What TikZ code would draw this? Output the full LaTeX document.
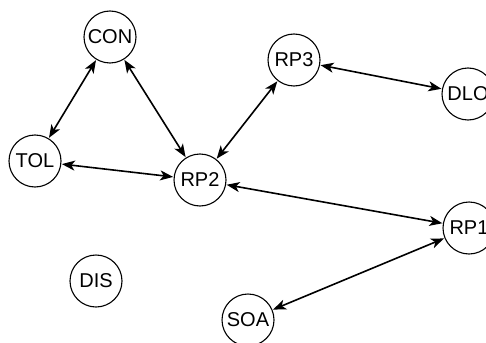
\documentclass[tikz,border=0pt]{standalone}
\usepackage{fontspec}
\setmainfont{Liberation Sans}
\usetikzlibrary{arrows.meta}
\begin{document}
\begin{tikzpicture}[x=1pt,y=-1pt,
  vert/.style={circle,draw,line width=1.1pt,minimum size=52pt,inner sep=0pt,font=\fontsize{20}{20}\selectfont},
  link/.style={{Stealth[length=13pt,width=10pt,inset=3.5pt]}-{Stealth[length=13pt,width=10pt,inset=3.5pt]},line width=1.6pt,shorten <=0.5pt,shorten >=0.5pt}]
\useasboundingbox (0,0) rectangle (486,342);
\node[vert] (CON) at (110,37) {CON};
\node[vert] (RP3) at (294,60) {RP3};
\node[vert] (DLO) at (468,94) {DLO};
\node[vert] (TOL) at (35,161) {TOL};
\node[vert] (RP2) at (200,180) {RP2};
\node[vert] (RP1) at (469,228) {RP1};
\node[vert] (DIS) at (96,281) {DIS};
\node[vert] (SOA) at (248,320) {SOA};
\draw[link] (CON) -- (TOL);
\draw[link] (CON) -- (RP2);
\draw[link] (TOL) -- (RP2);
\draw[link] (RP2) -- (RP3);
\draw[link] (RP3) -- (DLO);
\draw[link] (RP2) -- (RP1);
\draw[link] (RP1) -- (SOA);
\end{tikzpicture}
\end{document}
